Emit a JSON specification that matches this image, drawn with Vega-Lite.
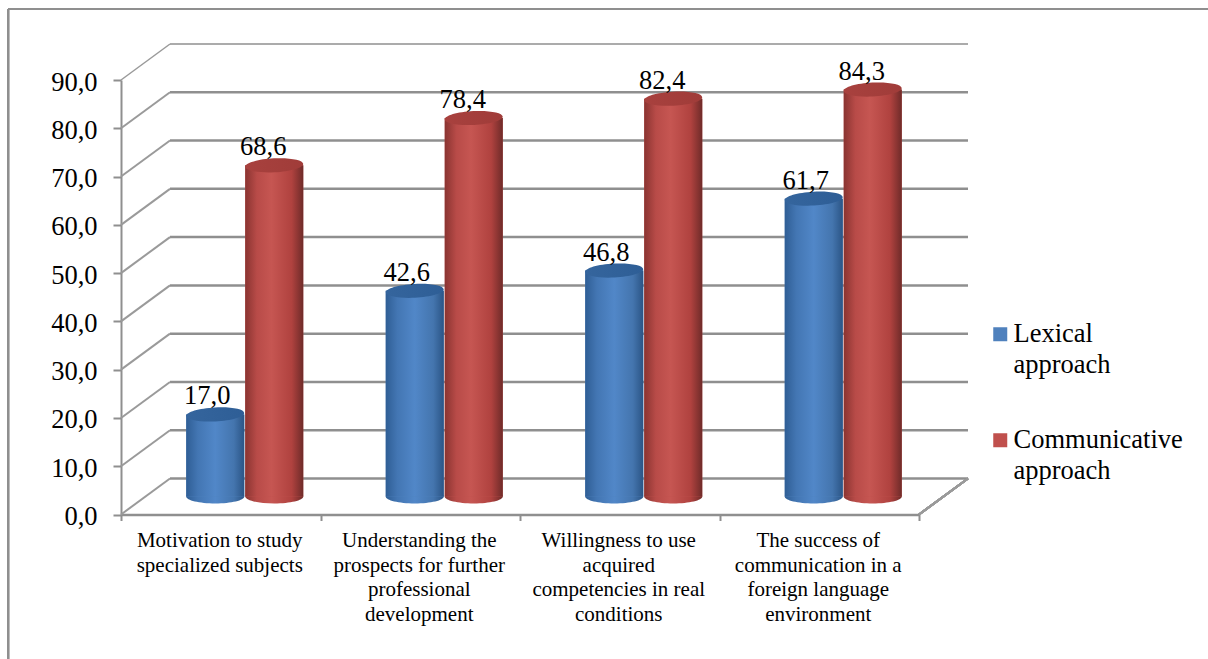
{
  "$schema": "https://vega.github.io/schema/vega-lite/v6.json",
  "width": 798,
  "height": 434.5,
  "autosize": "none",
  "padding": {"left": 121, "top": 80, "right": 289, "bottom": 144.5},
  "background": "white",
  "config": {
    "view": {"stroke": null},
    "font": "Liberation Serif",
    "locale": {"number": {"decimal": ",", "thousands": ".", "grouping": [3], "currency": ["", ""]}}
  },
  "resolve": {"scale": {"x": "independent"}},
  "layer": [
    {
      "description": "Outer frame, walls and floor of the pseudo-3D plot box",
      "data": {"values": [{"tick": 0}, {"tick": 10}, {"tick": 20}, {"tick": 30}, {"tick": 40}, {"tick": 50}, {"tick": 60}, {"tick": 70}, {"tick": 80}, {"tick": 90}]},
      "layer": [
        {
          "mark": {"type": "rule", "color": "#8f8f8f", "strokeWidth": 2},
          "encoding": {
            "x": {"datum": -0.566, "type": "quantitative", "scale": {"domain": [0, 4]}, "axis": null},
            "y": {"datum": -30, "type": "quantitative", "scale": {"domain": [0, 90], "nice": false}, "axis": {"values": [0, 10, 20, 30, 40, 50, 60, 70, 80, 90], "format": ".1f", "title": null, "grid": false, "labelFontSize": 26.5, "labelColor": "#000000", "labelPadding": 16, "labelOffset": 2, "tickSize": 8, "tickWidth": 2, "tickColor": "#8f8f8f", "domainColor": "#8f8f8f", "domainWidth": 2, "labelFont": "Liberation Serif"}},
            "y2": {"datum": 104.7}
          }
        },
        {
          "mark": {"type": "rule", "color": "#8f8f8f", "strokeWidth": 2},
          "encoding": {
            "x": {"datum": -0.566, "type": "quantitative"},
            "x2": {"datum": 6},
            "y": {"datum": 104.7, "type": "quantitative"}
          }
        },
        {
          "mark": {"type": "rule", "color": "#8f8f8f", "xOffset": 49, "x2Offset": 49, "yOffset": -36},
          "encoding": {
            "x": {"datum": 0, "type": "quantitative"},
            "x2": {"datum": 4},
            "y": {"field": "tick", "type": "quantitative"},
            "strokeWidth": {"condition": {"test": "datum.tick == 90", "value": 1.5}, "value": 2.5}
          }
        },
        {
          "mark": {"type": "rule", "color": "#9a9a9a", "x2Offset": 49, "y2Offset": -36},
          "encoding": {
            "x": {"datum": 0, "type": "quantitative"},
            "x2": {"datum": 0},
            "y": {"field": "tick", "type": "quantitative"},
            "y2": {"field": "tick"},
            "strokeWidth": {"condition": {"test": "datum.tick == 90", "value": 1.5}, "value": 2}
          }
        },
        {
          "mark": {"type": "rule", "color": "#9a9a9a", "strokeWidth": 2, "x2Offset": 49, "y2Offset": -36},
          "encoding": {
            "x": {"datum": 4, "type": "quantitative"},
            "x2": {"datum": 4},
            "y": {"datum": 0, "type": "quantitative"},
            "y2": {"datum": 0}
          }
        }
      ]
    },
    {
      "description": "Cylinders, one stack of base, body and cap per approach, with value labels",
      "data": {
        "values": [
          {"category": "Motivation to study\nspecialized subjects", "series": "Lexical approach", "value": 17.0},
          {"category": "Motivation to study\nspecialized subjects", "series": "Communicative approach", "value": 68.6},
          {"category": "Understanding the\nprospects for further\nprofessional\ndevelopment", "series": "Lexical approach", "value": 42.6},
          {"category": "Understanding the\nprospects for further\nprofessional\ndevelopment", "series": "Communicative approach", "value": 78.4},
          {"category": "Willingness to use\nacquired\ncompetencies in real\nconditions", "series": "Lexical approach", "value": 46.8},
          {"category": "Willingness to use\nacquired\ncompetencies in real\nconditions", "series": "Communicative approach", "value": 82.4},
          {"category": "The success of\ncommunication in a\nforeign language\nenvironment", "series": "Lexical approach", "value": 61.7},
          {"category": "The success of\ncommunication in a\nforeign language\nenvironment", "series": "Communicative approach", "value": 84.3}
        ]
      },
      "encoding": {
        "x": {
          "field": "category",
          "type": "nominal",
          "sort": null,
          "scale": {"paddingInner": 0, "paddingOuter": 0},
          "axis": {"orient": "bottom", "title": null, "labelAngle": 0, "labelExpr": "split(datum.label, '\\n')", "labelFontSize": 21, "labelLineHeight": 24.5, "labelColor": "#000000", "labelPadding": 9, "labelOffset": -1.5, "labelLimit": 0, "labelBaseline": "top", "tickBand": "extent", "tickSize": 6, "tickWidth": 2, "tickColor": "#8f8f8f", "domainColor": "#8f8f8f", "domainWidth": 2.5, "labelFont": "Liberation Serif", "labelOverlap": false}
        },
        "y": {"field": "value", "type": "quantitative", "stack": null}
      },
      "layer": [
        {
          "transform": [{"filter": "datum.series == 'Lexical approach'"}],
          "layer": [
            {
              "mark": {
                "type": "point", "filled": true, "opacity": 1, "size": 3364, "xOffset": -5.5, "yOffset": -18, "strokeWidth": 0,
                "shape": "M-1,0A1,0.24,0,1,0,1,0A1,0.24,0,1,0,-1,0Z",
                "fill": {"gradient": "linear", "x1": 0, "x2": 1, "y1": 0, "y2": 0, "stops": [{"offset": 0, "color": "#2f5e95"}, {"offset": 0.2, "color": "#4376b3"}, {"offset": 0.5, "color": "#5187c8"}, {"offset": 0.82, "color": "#4475ae"}, {"offset": 1, "color": "#2b5586"}]}
              },
              "encoding": {"y": {"datum": 0, "type": "quantitative"}}
            },
            {
              "mark": {"type": "bar", "width": 58, "xOffset": -5.5, "yOffset": -18, "y2Offset": -18},
              "encoding": {
                "y2": {"datum": 0},
                "color": {
                  "field": "series",
                  "type": "nominal",
                  "scale": {"domain": ["Lexical approach", "Communicative approach"], "range": ["#4f81bd", "#c0504d"]},
                  "legend": {
                    "title": null,
                    "orient": "none",
                    "legendX": 866,
                    "legendY": 241,
                    "symbolType": "square",
                    "symbolSize": 196,
                    "symbolStrokeWidth": 0,
                    "labelFontSize": 26.5,
                    "labelFont": "Liberation Serif",
                    "labelColor": "#000000",
                    "labelOffset": 0,
                    "labelLimit": 0,
                    "rowPadding": 48,
                    "labelExpr": "split(datum.label, ' ')",
                    "encoding": {"labels": {"lineHeight": {"value": 31}}}
                  }
                }
              }
            },
            {
              "mark": {
                "type": "bar", "width": 58, "xOffset": -5.5, "yOffset": -18, "y2Offset": -18,
                "fill": {"gradient": "linear", "x1": 0, "x2": 1, "y1": 0, "y2": 0, "stops": [{"offset": 0, "color": "#2f5e95"}, {"offset": 0.2, "color": "#4376b3"}, {"offset": 0.5, "color": "#5187c8"}, {"offset": 0.82, "color": "#4475ae"}, {"offset": 1, "color": "#2b5586"}]}
              },
              "encoding": {"y2": {"datum": 0}}
            },
            {
              "mark": {
                "type": "point", "filled": true, "opacity": 1, "size": 3364, "xOffset": -5.5, "yOffset": -18, "strokeWidth": 0, "angle": -3,
                "shape": "M-1,0A1,0.24,0,1,0,1,0A1,0.24,0,1,0,-1,0Z",
                "fill": {"gradient": "linear", "x1": 0, "x2": 1, "y1": 0, "y2": 0, "stops": [{"offset": 0, "color": "#35659d"}, {"offset": 1, "color": "#2e5e96"}]}
              }
            },
            {
              "mark": {"type": "text", "fontSize": 26.5, "color": "#000000", "font": "Liberation Serif", "xOffset": -13.5, "yOffset": -28, "baseline": "alphabetic"},
              "encoding": {"text": {"field": "value", "type": "quantitative", "format": ".1f"}}
            }
          ]
        },
        {
          "transform": [{"filter": "datum.series == 'Communicative approach'"}],
          "layer": [
            {
              "mark": {
                "type": "point", "filled": true, "opacity": 1, "size": 3364, "xOffset": 53.5, "yOffset": -18, "strokeWidth": 0,
                "shape": "M-1,0A1,0.24,0,1,0,1,0A1,0.24,0,1,0,-1,0Z",
                "fill": {"gradient": "linear", "x1": 0, "x2": 1, "y1": 0, "y2": 0, "stops": [{"offset": 0, "color": "#8a3431"}, {"offset": 0.2, "color": "#b84b48"}, {"offset": 0.45, "color": "#c65652"}, {"offset": 0.8, "color": "#b0423f"}, {"offset": 1, "color": "#6f2b29"}]}
              },
              "encoding": {"y": {"datum": 0, "type": "quantitative"}}
            },
            {
              "mark": {"type": "bar", "width": 58, "xOffset": 53.5, "yOffset": -18, "y2Offset": -18},
              "encoding": {"y2": {"datum": 0}, "color": {"field": "series", "type": "nominal"}}
            },
            {
              "mark": {
                "type": "bar", "width": 58, "xOffset": 53.5, "yOffset": -18, "y2Offset": -18,
                "fill": {"gradient": "linear", "x1": 0, "x2": 1, "y1": 0, "y2": 0, "stops": [{"offset": 0, "color": "#8a3431"}, {"offset": 0.2, "color": "#b84b48"}, {"offset": 0.45, "color": "#c65652"}, {"offset": 0.8, "color": "#b0423f"}, {"offset": 1, "color": "#6f2b29"}]}
              },
              "encoding": {"y2": {"datum": 0}}
            },
            {
              "mark": {
                "type": "point", "filled": true, "opacity": 1, "size": 3364, "xOffset": 53.5, "yOffset": -18, "strokeWidth": 0, "angle": -3,
                "shape": "M-1,0A1,0.24,0,1,0,1,0A1,0.24,0,1,0,-1,0Z",
                "fill": {"gradient": "linear", "x1": 0, "x2": 1, "y1": 0, "y2": 0, "stops": [{"offset": 0, "color": "#a8413e"}, {"offset": 1, "color": "#a03c39"}]}
              }
            },
            {
              "mark": {"type": "text", "fontSize": 26.5, "color": "#000000", "font": "Liberation Serif", "xOffset": 42.5, "yOffset": -28, "baseline": "alphabetic"},
              "encoding": {"text": {"field": "value", "type": "quantitative", "format": ".1f"}}
            }
          ]
        }
      ]
    }
  ]
}
